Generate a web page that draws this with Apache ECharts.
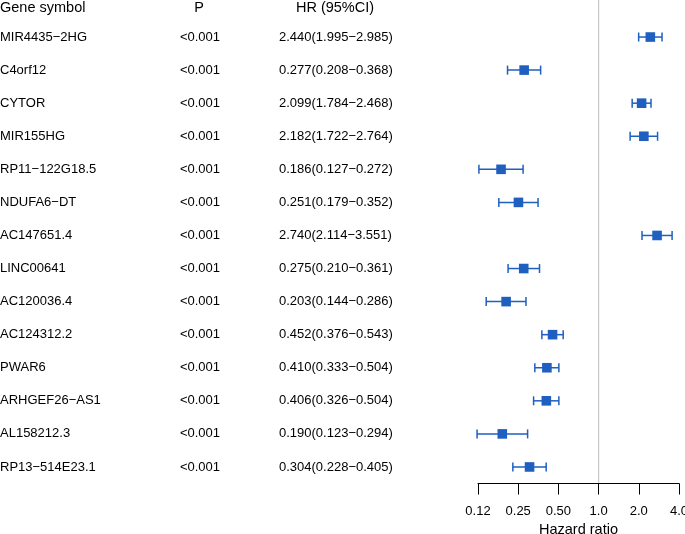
<!DOCTYPE html>
<html><head><meta charset="utf-8">
<script src="https://cdn.jsdelivr.net/npm/echarts@6/dist/echarts.min.js"></script>
<style>html,body{margin:0;padding:0;background:#fff}#c{width:685px;height:534px}</style>
</head><body><div id="c"></div>
<script>
var genes = ['MIR4435\u22122HG','C4orf12','CYTOR','MIR155HG','RP11\u2212122G18.5','NDUFA6\u2212DT','AC147651.4','LINC00641','AC120036.4','AC124312.2','PWAR6','ARHGEF26\u2212AS1','AL158212.3','RP13\u2212514E23.1'];
var pvals = ['<0.001','<0.001','<0.001','<0.001','<0.001','<0.001','<0.001','<0.001','<0.001','<0.001','<0.001','<0.001','<0.001','<0.001'];
var hr = [2.440,0.277,2.099,2.182,0.186,0.251,2.740,0.275,0.203,0.452,0.410,0.406,0.190,0.304];
var lower = [1.995,0.208,1.784,1.722,0.127,0.179,2.114,0.210,0.144,0.376,0.333,0.326,0.123,0.228];
var upper = [2.985,0.368,2.468,2.764,0.272,0.352,3.551,0.361,0.286,0.543,0.504,0.504,0.294,0.405];
var hrText = ['2.440(1.995\u22122.985)','0.277(0.208\u22120.368)','2.099(1.784\u22122.468)','2.182(1.722\u22122.764)','0.186(0.127\u22120.272)','0.251(0.179\u22120.352)','2.740(2.114\u22123.551)','0.275(0.210\u22120.361)','0.203(0.144\u22120.286)','0.452(0.376\u22120.543)','0.410(0.333\u22120.504)','0.406(0.326\u22120.504)','0.190(0.123\u22120.294)','0.304(0.228\u22120.405)'];
var tickValues = [0.125,0.25,0.5,1,2,4];
var tickLabels = ['0.12','0.25','0.50','1.0','2.0','4.0'];
var headers = ['Gene symbol','P','HR (95%CI)'];

var FONT = 'Liberation Sans, Arial, sans-serif';
var BLUE = '#1f5fc0';
var chart = echarts.init(document.getElementById('c'), null, {renderer:'canvas'});

var forestData = hr.map(function(v,i){return [v, lower[i], upper[i], i];});
var textData = genes.map(function(g,i){return [1, i];});

var option = {
  animation:false,
  grid:{left:478, right:6, top:20.5, bottom:50.5, containLabel:false, outerBoundsMode:'none'},
  xAxis:{
    type:'log', logBase:2, min:0.125, max:4,
    axisLine:{show:true, lineStyle:{color:'#000', width:1}},
    axisTick:{show:true, length:11, lineStyle:{color:'#000', width:1}},
    splitLine:{show:false},
    axisLabel:{margin:21, fontSize:13, color:'#000', fontFamily:FONT, hideOverlap:false,
      formatter:function(v){
        var best=0, d=1e9;
        for(var k=0;k<tickValues.length;k++){var dd=Math.abs(Math.log(v)-Math.log(tickValues[k])); if(dd<d){d=dd;best=k;}}
        return tickLabels[best];
      }},
    name:'Hazard ratio', nameLocation:'middle', nameGap:38,
    nameTextStyle:{fontSize:14.5, color:'#000', fontFamily:FONT}
  },
  yAxis:{
    type:'category', inverse:true, data:genes,
    axisLine:{show:false}, axisTick:{show:false}, axisLabel:{show:false}, splitLine:{show:false}
  },
  series:[
    {
      type:'custom', clip:false,
      data:forestData,
      encode:{x:[0,1,2], y:3},
      renderItem:function(params, api){
        var i = api.value(3);
        var c = api.coord([api.value(0), i]);
        var l = api.coord([api.value(1), i]);
        var u = api.coord([api.value(2), i]);
        var y = c[1], cap = 4.5, s = 4.8;
        var ls = {stroke:BLUE, lineWidth:1.5};
        return {type:'group', children:[
          {type:'line', shape:{x1:l[0], y1:y, x2:u[0], y2:y}, style:ls},
          {type:'line', shape:{x1:l[0], y1:y-cap, x2:l[0], y2:y+cap}, style:ls},
          {type:'line', shape:{x1:u[0], y1:y-cap, x2:u[0], y2:y+cap}, style:ls},
          {type:'rect', shape:{x:c[0]-s, y:y-s, width:2*s, height:2*s}, style:{fill:BLUE}}
        ]};
      }
    },
    {
      type:'custom', clip:false,
      data:textData,
      encode:{x:0, y:1},
      renderItem:function(params, api){
        var i = api.value(1);
        var y = api.coord([1, i])[1];
        var ts = function(t, align){return {text:t, fill:'#000', font:'13px '+FONT, textAlign:align, textVerticalAlign:'middle'};};
        return {type:'group', children:[
          {type:'text', x:0, y:y, style:ts(genes[i],'left')},
          {type:'text', x:200, y:y, style:ts(pvals[i],'center')},
          {type:'text', x:279, y:y, style:ts(hrText[i],'left')}
        ]};
      }
    }
  ]
};
chart.setOption(option);

var x1 = chart.convertToPixel({xAxisIndex:0}, 1);
var yTop = chart.convertToPixel({yAxisIndex:0}, 0) - 16.5;
var yBot = 534 - 50.5;
var hs = function(t, align){return {text:t, fill:'#000', font:'14.5px '+FONT, textAlign:align, textVerticalAlign:'middle'};};
chart.setOption({graphic:[
  {type:'line', z:-1, shape:{x1:x1, y1:0, x2:x1, y2:yBot}, style:{stroke:'#c8c8c8', lineWidth:1.2}},
  {type:'text', x:0, y:yTop-13, style:hs(headers[0],'left')},
  {type:'text', x:199, y:yTop-13, style:hs(headers[1],'center')},
  {type:'text', x:335, y:yTop-13, style:hs(headers[2],'center')}
]});
</script></body></html>
